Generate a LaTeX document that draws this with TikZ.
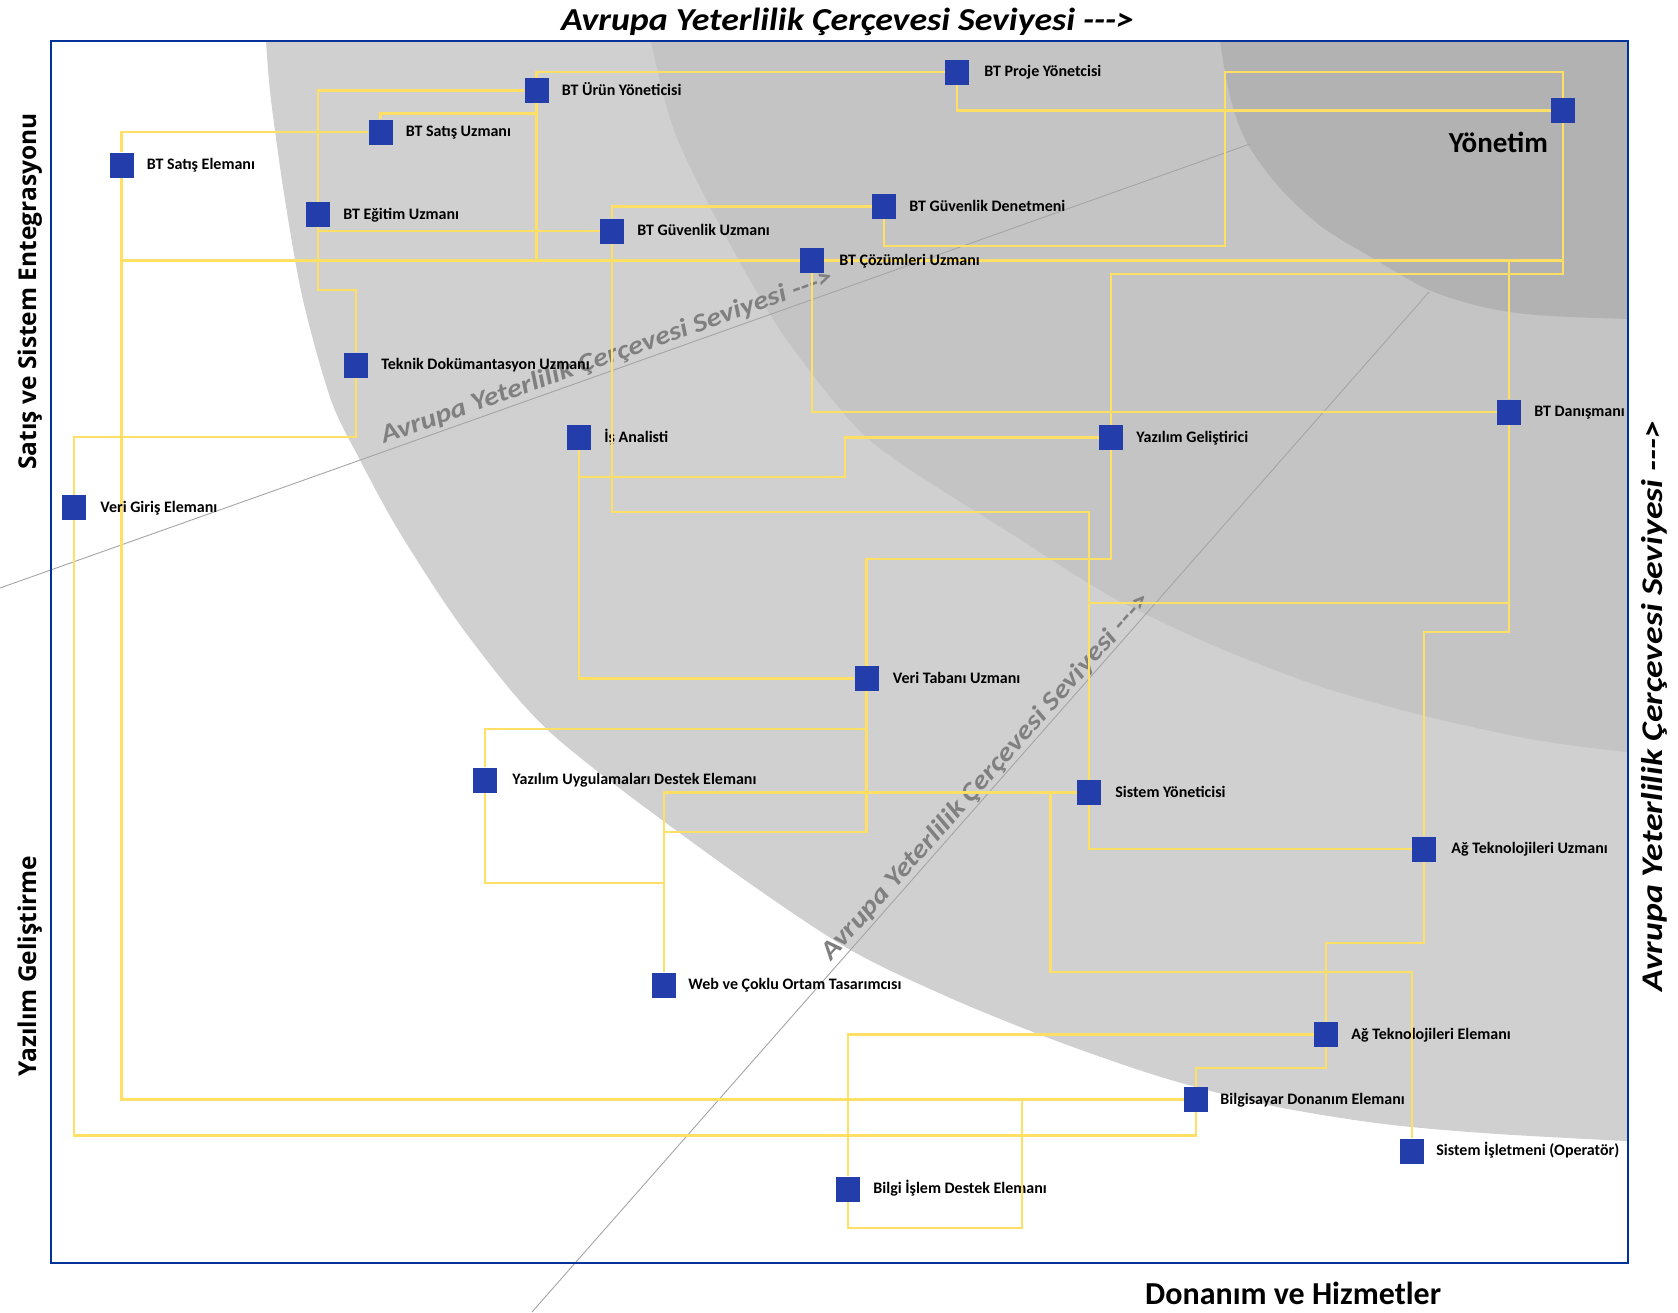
\documentclass[tikz,border=0pt]{standalone}
\usepackage{fontspec}
\setmainfont{Carlito}
\newfontfamily\axisfont{Open Sans}
\pgfdeclarelayer{bg}
\pgfdeclarelayer{lab}
\pgfdeclarelayer{wires}
\pgfsetlayers{bg,lab,wires,main}
\definecolor{sqblue}{RGB}{35,61,170}
\definecolor{wireyellow}{RGB}{255,224,100}
\definecolor{frameblue}{RGB}{0,51,153}
\definecolor{gA}{RGB}{208,208,208}
\definecolor{gB}{RGB}{196,196,196}
\definecolor{gC}{RGB}{178,178,178}
\definecolor{diagline}{RGB}{165,165,165}
\definecolor{diagtext}{RGB}{128,128,128}
\newcommand\myarr{-\kern0pt-\kern0pt-\kern0pt>}
\newcommand\evstr{Avrupa Yeterlilik Çerçevesi Seviyesi \myarr}
\begin{document}
\begin{tikzpicture}[x=1pt,y=-1pt,
  sq/.style={rectangle, fill=sqblue, draw=none, minimum width=24pt, minimum height=25pt, inner sep=0pt},
  lbl/.style={font=\fontsize{16}{19}\selectfont\bfseries, anchor=base west, inner sep=0pt},
  wire/.style={draw=wireyellow, line width=2.9pt},
  diagtxt/.style={font=\fontsize{26}{30}\selectfont\bfseries\itshape, text=diagtext, anchor=base west, inner sep=0pt},
  axislbl/.style={font=\axisfont\fontsize{24.5}{28}\selectfont\bfseries, rotate=90, anchor=base, inner sep=0pt},
  bigital/.style={font=\fontsize{#1}{#1}\selectfont\bfseries\itshape, inner sep=0pt},
  bigbold/.style={font=\fontsize{#1}{#1}\selectfont\bfseries, inner sep=0pt}
]
\useasboundingbox (0,0) rectangle (1678,1312);

% ---------- background ----------
\begin{pgfonlayer}{bg}
\fill[white] (0,0) rectangle (1678,1312);
\begin{scope}
\clip (51,41) rectangle (1628,1263);
\fill[gA] plot[smooth] coordinates {(264,0) (266,41) (271,100) (285,200) (303,300) (331,400) (360,460) (400,533) (466,633) (551,733) (703,850) (842,945) (948,997) (1054,1040) (1161,1077) (1268,1105) (1376,1123) (1483,1133) (1627,1141) (1700,1143)} -- (1700,0) -- cycle;
\fill[gB] plot[smooth] coordinates {(648,0) (651,41) (675,133) (724,233) (782,333) (854,425) (906,467) (1010,533) (1112,597) (1217,647) (1322,687) (1429,717) (1536,740) (1627,752) (1700,757)} -- (1700,0) -- cycle;
\fill[gC] plot[smooth] coordinates {(1218,0) (1220,41) (1231,100) (1247,143) (1279,187) (1322,227) (1376,260) (1429,290) (1483,307) (1536,315) (1627,319) (1700,320)} -- (1700,0) -- cycle;
\end{scope}
\draw[diagline, line width=0.9pt] (0,588) -- (1250,144);
\draw[diagline, line width=0.9pt] (532,1312) -- (1429,292);
\node[diagtxt, rotate=19.56] (dtA) at (384,444) {\scalebox{1.15}[1]{\evstr}};
\node[diagtxt, rotate=48.4] (dtB) at (831,962) {\scalebox{1.16}[1]{\evstr}};
\end{pgfonlayer}

% ---------- squares ----------
\node[sq] (urun) at (536.5,90.5) {};
\node[sq] (satisu) at (380.5,132) {};
\node[sq] (satise) at (121.5,165) {};
\node[sq] (egitim) at (318,214.5) {};
\node[sq] (guvu) at (612,231) {};
\node[sq] (cozum) at (812,260.5) {};
\node[sq] (teknik) at (356,365) {};
\node[sq] (isan) at (579,437.5) {};
\node[sq] (proje) at (957,72) {};
\node[sq] (yonetim) at (1563,110.5) {};
\node[sq] (denet) at (884,206.5) {};
\node[sq] (danis) at (1509,412) {};
\node[sq] (yazgel) at (1111,437.5) {};
\node[sq] (verigiris) at (74,507.5) {};
\node[sq] (yazuyg) at (485,780) {};
\node[sq] (veritab) at (866.5,678.5) {};
\node[sq] (sisyon) at (1089,792.5) {};
\node[sq] (agtu) at (1424,849) {};
\node[sq] (web) at (664,985) {};
\node[sq] (agte) at (1326,1034.5) {};
\node[sq] (bilgdon) at (1196,1099.5) {};
\node[sq] (sisis) at (1412,1151) {};
\node[sq] (bilgis) at (848,1189) {};

% ---------- labels (under the connectors) ----------
\begin{pgfonlayer}{lab}
\node[lbl] (l-urun) at ([xshift=13pt,yshift=-4.5pt]urun.east) {BT Ürün Yöneticisi};
\node[lbl] (l-satisu) at ([xshift=13pt,yshift=-4.5pt]satisu.east) {BT Satış Uzmanı};
\node[lbl] (l-satise) at ([xshift=13pt,yshift=-4.5pt]satise.east) {BT Satış Elemanı};
\node[lbl] (l-egitim) at ([xshift=13pt,yshift=-4.5pt]egitim.east) {BT Eğitim Uzmanı};
\node[lbl] (l-guvu) at ([xshift=13pt,yshift=-4.5pt]guvu.east) {BT Güvenlik Uzmanı};
\node[lbl] (l-teknik) at ([xshift=13pt,yshift=-4.5pt]teknik.east) {Teknik Dokümantasyon Uzmanı};
\node[lbl] (l-isan) at ([xshift=13pt,yshift=-4.5pt]isan.east) {İş Analisti};
\node[lbl] (l-proje) at ([xshift=15pt,yshift=-4.5pt]proje.east) {BT Proje Yönetcisi};
\node[lbl] (l-denet) at ([xshift=13pt,yshift=-4.5pt]denet.east) {BT Güvenlik Denetmeni};
\node[lbl] (l-danis) at ([xshift=13pt,yshift=-4.5pt]danis.east) {BT Danışmanı};
\node[lbl] (l-yazgel) at ([xshift=13pt,yshift=-4.5pt]yazgel.east) {Yazılım Geliştirici};
\node[lbl] (l-yazuyg) at ([xshift=15pt,yshift=-4.5pt]yazuyg.east) {Yazılım Uygulamaları Destek Elemanı};
\node[lbl] (l-veritab) at ([xshift=14pt,yshift=-4.5pt]veritab.east) {Veri Tabanı Uzmanı};
\node[lbl] (l-sisyon) at ([xshift=14pt,yshift=-4.5pt]sisyon.east) {Sistem Yöneticisi};
\node[lbl] (l-agtu) at ([xshift=15pt,yshift=-4.5pt]agtu.east) {Ağ Teknolojileri Uzmanı};
\node[lbl] (l-web) at ([xshift=12pt,yshift=-4.5pt]web.east) {Web ve Çoklu Ortam Tasarımcısı};
\node[lbl] (l-agte) at ([xshift=13pt,yshift=-4.5pt]agte.east) {Ağ Teknolojileri Elemanı};
\node[lbl] (l-bilgdon) at ([xshift=12pt,yshift=-4.5pt]bilgdon.east) {Bilgisayar Donanım Elemanı};
\node[lbl] (l-sisis) at ([xshift=12pt,yshift=-4.5pt]sisis.east) {Sistem İşletmeni (Operatör)};
\node[lbl] (l-bilgis) at ([xshift=13pt,yshift=-4.5pt]bilgis.east) {Bilgi İşlem Destek Elemanı};
\node[bigbold=29, anchor=base east] (l-yonetim) at (1548,152) {Yönetim};
\end{pgfonlayer}

% ---------- connectors ----------
\begin{pgfonlayer}{wires}
\draw[wire] (urun.west) -| (egitim.north);
\draw[wire] (egitim.south) |- (356,290) -- (teknik.north);
\draw[wire] (egitim.south) |- (guvu.west);
\draw[wire] (satisu.north) |- ([yshift=-10pt]urun.south);
\draw[wire] (urun.south) |- (cozum.west);
\draw[wire] (satisu.west) -| (satise.north);
\draw[wire] (satise.south) |- (cozum.west);
\draw[wire] (satise.south) |- (bilgdon.west);
\draw[wire] (urun.north) |- (proje.west);
\draw[wire] (guvu.north) |- (denet.west);
\draw[wire] (guvu.south) |- (1089,512) -- (sisyon.north);
\draw[wire] (isan.south) |- (veritab.west);
\draw[wire] (isan.south) |- (845,477) |- (yazgel.west);
\draw[wire] (teknik.south) |- (74,437) -- (verigiris.north);
\draw[wire] (verigiris.south) |- (1196,1135.5) -- (bilgdon.south);
\draw[wire] (cozum.east) -| (yonetim.south);
\draw[wire] (yonetim.south) |- (1111,274) -- (yazgel.north);
\draw[wire] (danis.north) |- (cozum.east);
\draw[wire] (proje.south) |- (yonetim.west);
\draw[wire] (denet.south) |- (1225,246) |- (1563,72) -- (yonetim.north);
\draw[wire] (cozum.south) |- (danis.west);
\draw[wire] (yazgel.south) |- (866.5,559) -- (veritab.north);
\draw[wire] (danis.south) |- (1424,632) -- (agtu.north);
\draw[wire] (danis.south) |- (1089,603) -- (sisyon.north);
\draw[wire] (sisyon.south) |- (agtu.west);
\draw[wire] (sisyon.west) -| (1050.5,972) -| (sisis.north);
\draw[wire] (sisyon.west) -| (web.north);
\draw[wire] (veritab.south) |- (664,832) -- (web.north);
\draw[wire] (veritab.south) |- (485,729) -- (yazuyg.north);
\draw[wire] (yazuyg.south) |- (664,883) -- (web.north);
\draw[wire] (agtu.south) |- (1326,943) -- (agte.north);
\draw[wire] (agte.west) -| (bilgis.north);
\draw[wire] (agte.south) |- (1196,1068) -- (bilgdon.north);
\draw[wire] (bilgis.south) |- (1022,1228) |- (bilgdon.west);
\end{pgfonlayer}

% ---------- labels drawn above their crossing lines ----------
\node[lbl] (l-cozum) at ([xshift=15pt,yshift=-4.5pt]cozum.east) {BT Çözümleri Uzmanı};
\node[lbl] (l-verigiris) at ([xshift=14pt,yshift=-4.5pt]verigiris.east) {Veri Giriş Elemanı};

% ---------- frame and axis titles ----------
\draw[frameblue, line width=2.5pt] (51,41) rectangle (1628,1263);
\node[bigital=32, anchor=base west] (toptitle) at (561,30) {\scalebox{1.12}[1]{\evstr}};
\node[bigital=30, rotate=90, anchor=base] (righttitle) at (1662,706) {\scalebox{1.19}[1]{\evstr}};
\node[axislbl] (leftA) at (36,291.5) {Satış ve Sistem Entegrasyonu};
\node[axislbl] (leftB) at (36,966) {Yazılım Geliştirme};
\node[bigbold=32, anchor=base west] (bottomtitle) at (1145,1304) {Donanım ve Hizmetler};
\end{tikzpicture}
\end{document}
